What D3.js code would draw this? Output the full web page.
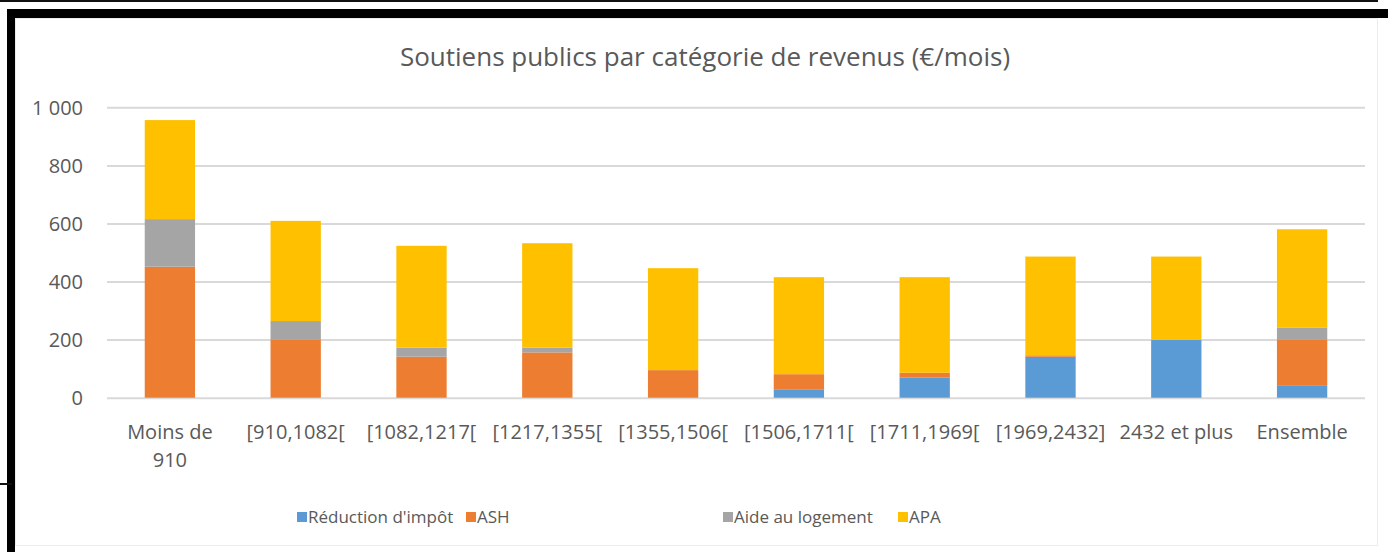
<!DOCTYPE html>
<html>
<head>
<meta charset="utf-8">
<script src="https://cdn.jsdelivr.net/npm/d3@7"></script>
<style>
  html, body { margin: 0; padding: 0; background: #fff; }
  svg { display: block; }
  text { font-family: "Open Sans", "Noto Sans", sans-serif; fill: #595959; }
</style>
</head>
<body>
<svg id="chart" width="1388" height="552"></svg>
<script>
// Income brackets (€/month)
const categories = [
  ["Moins de", "910"], ["[910,1082["], ["[1082,1217["], ["[1217,1355["],
  ["[1355,1506["], ["[1506,1711["], ["[1711,1969["], ["[1969,2432]"],
  ["2432 et plus"], ["Ensemble"]
];
const seriesNames = ["Réduction d'impôt", "ASH", "Aide au logement", "APA"];
const seriesColors = ["#5b9bd5", "#ed7d31", "#a5a5a5", "#ffc000"];

// Monthly public support per bracket, by type (€/mois)
const reductionImpot = [0, 0, 0, 0, 0, 29, 70, 141, 199, 43];
const ash            = [451, 199, 141, 156, 95, 52, 16, 5, 0, 156];
const aideLogement   = [164, 65, 31, 16, 0, 0, 0, 0, 0, 43];
const apa            = [341, 345, 351, 360, 351, 334, 329, 340, 287, 338];

const yTicks = [0, 200, 400, 600, 800, 1000];
const yTickLabels = ["0", "200", "400", "600", "800", "1 000"];

const svg = d3.select("#chart");

// Page frame
svg.append("rect").attr("x", 0).attr("y", 0).attr("width", 1378).attr("height", 2).attr("fill", "#111");
svg.append("rect").attr("x", 7).attr("y", 9).attr("width", 1381).attr("height", 9).attr("fill", "#000");
svg.append("rect").attr("x", 7).attr("y", 9).attr("width", 8).attr("height", 543).attr("fill", "#000");
svg.append("rect").attr("x", 0).attr("y", 483).attr("width", 12).attr("height", 2).attr("fill", "#111");
// Chart area outline
svg.append("rect").attr("x", 15.5).attr("y", 18.5).attr("width", 1362).attr("height", 527)
  .attr("fill", "none").attr("stroke", "#ececec").attr("stroke-width", 1);

const plot = { left: 107, right: 1365, top: 107.3, bottom: 397.7 };

const x = d3.scaleBand()
  .domain(d3.range(categories.length))
  .range([plot.left, plot.right])
  .paddingInner(0.6)
  .paddingOuter(0.3);

const y = d3.scaleLinear().domain([0, 1000]).range([plot.bottom, plot.top]);

// Gridlines and value labels
const yAxis = d3.axisLeft(y).tickValues(yTicks)
  .tickSize(-(plot.right - plot.left))
  .tickFormat((d, i) => yTickLabels[i])
  .tickPadding(24);
const gy = svg.append("g").attr("transform", `translate(${plot.left},0)`).call(yAxis);
gy.select(".domain").remove();
gy.selectAll(".tick line").attr("stroke", "#d9d9d9").attr("stroke-width", 2);
gy.selectAll(".tick text").attr("font-size", 20).attr("fill", "#595959").attr("dy", "0.35em");

// Stacked bars
const rows = categories.map((c, i) => ({
  i,
  "Réduction d'impôt": reductionImpot[i],
  "ASH": ash[i],
  "Aide au logement": aideLogement[i],
  "APA": apa[i]
}));
const stacked = d3.stack().keys(seriesNames)(rows);

svg.append("g").selectAll("g")
  .data(stacked)
  .join("g")
  .attr("fill", (d, k) => seriesColors[k])
  .selectAll("rect")
  .data(d => d)
  .join("rect")
  .attr("x", d => x(d.data.i))
  .attr("width", x.bandwidth())
  .attr("y", d => y(d[1]))
  .attr("height", d => Math.max(0, y(d[0]) - y(d[1])));

// Category labels
const xl = svg.append("g");
categories.forEach((lines, i) => {
  const cx = x(i) + x.bandwidth() / 2;
  const t = xl.append("text")
    .attr("x", cx)
    .attr("y", 439)
    .attr("text-anchor", "middle")
    .attr("font-size", 20);
  lines.forEach((ln, j) => {
    t.append("tspan").attr("x", cx).attr("dy", j === 0 ? 0 : 28).text(ln);
  });
});

// Title
svg.append("text")
  .attr("x", 705).attr("y", 66)
  .attr("text-anchor", "middle")
  .attr("font-size", 26)
  .text("Soutiens publics par catégorie de revenus (€/mois)");

// Legend
const legendX = [297, 466, 723, 898];
const lg = svg.append("g");
seriesNames.forEach((name, k) => {
  lg.append("rect").attr("x", legendX[k]).attr("y", 512).attr("width", 10).attr("height", 10).attr("fill", seriesColors[k]);
  lg.append("text").attr("x", legendX[k] + 11).attr("y", 523).attr("font-size", 17).text(name);
});
</script>
</body>
</html>
